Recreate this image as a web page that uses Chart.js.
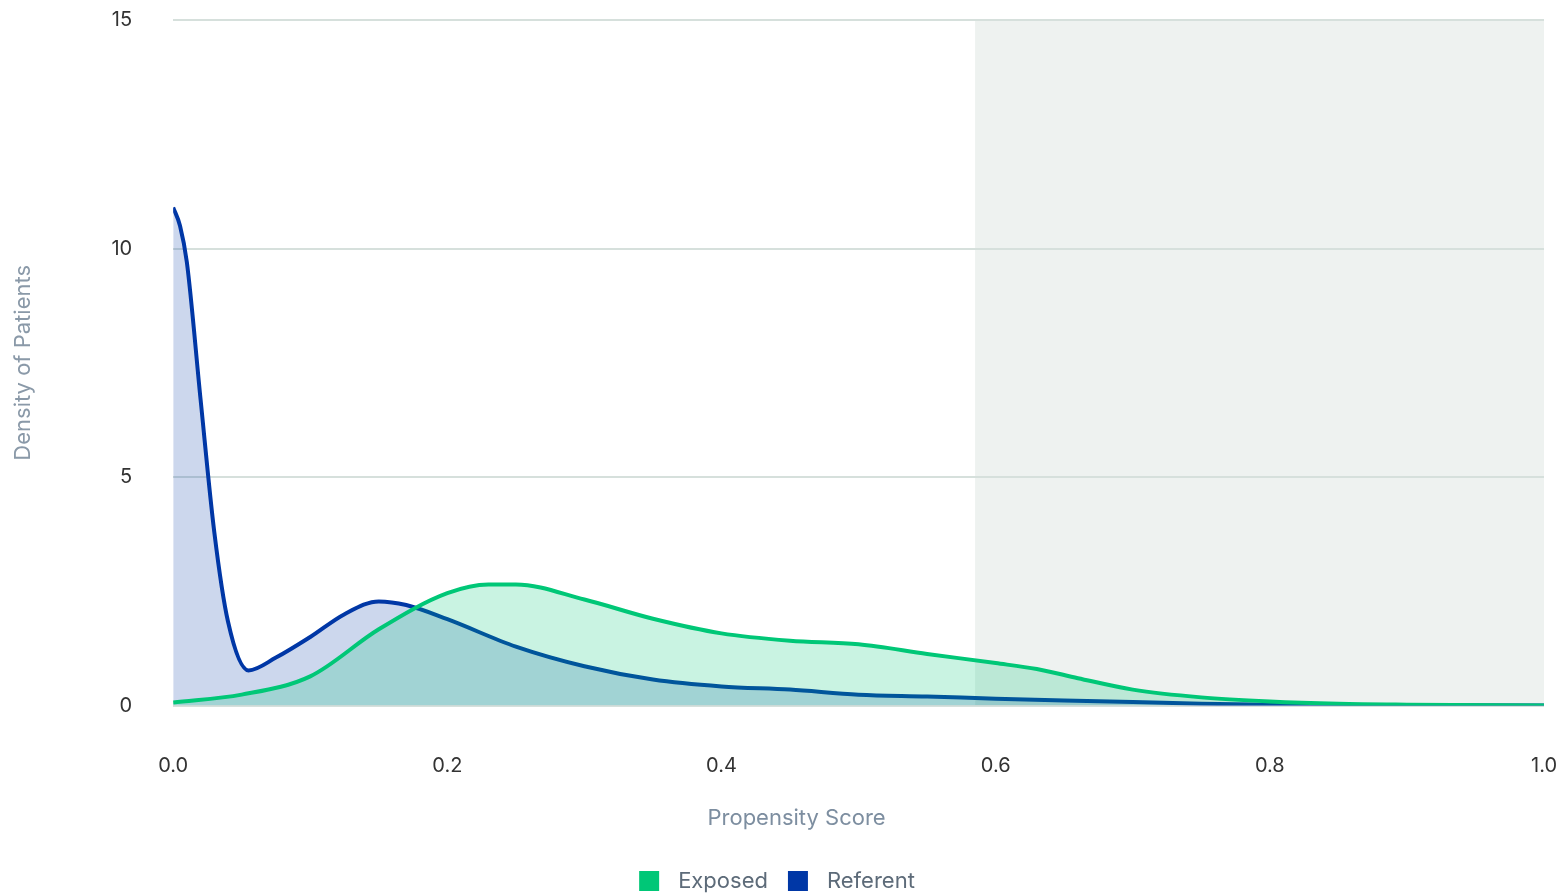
<!DOCTYPE html>
<html>
<head>
<meta charset="utf-8">
<script src="https://cdn.jsdelivr.net/npm/chart.js@4/dist/chart.umd.min.js"></script>
<style>
    html, body { margin: 0; padding: 0; background: #fff; }
    #wrap { width: 1564px; height: 894px; }
</style>
</head>
<body>
<div id="wrap"><canvas id="psChart"></canvas></div>
<script>
// propensity score grid (x) and density values
const exposedX = [0, 0.05, 0.1, 0.15, 0.2, 0.23, 0.25, 0.3, 0.35, 0.4, 0.45, 0.5, 0.55, 0.6, 0.63, 0.66, 0.7, 0.75, 0.8, 0.85, 0.9, 1.0];
const exposedY = [0.07, 0.24, 0.64, 1.67, 2.46, 2.65, 2.65, 2.32, 1.9, 1.58, 1.42, 1.34, 1.13, 0.93, 0.8, 0.6, 0.35, 0.18, 0.09, 0.04, 0.02, 0];

const referentX = [0, 0.005, 0.01, 0.02, 0.03, 0.04, 0.055, 0.075, 0.1, 0.125, 0.15, 0.17, 0.2, 0.25, 0.3, 0.35, 0.4, 0.45, 0.5, 0.55, 0.6, 0.65, 0.7, 0.75, 0.8, 0.9, 1.0];
const referentY = [10.9, 10.5, 9.7, 6.7, 3.8, 1.84, 0.77, 1.05, 1.5, 2.0, 2.28, 2.2, 1.89, 1.29, 0.86, 0.57, 0.42, 0.35, 0.24, 0.2, 0.15, 0.11, 0.08, 0.04, 0.02, 0.01, 0];

const xTicks = [0, 0.2, 0.4, 0.6, 0.8, 1.0];
const yTicks = [0, 5, 10, 15];

// region of common support shaded grey
const shadedRange = [0.585, 1.0];

const toPoints = (xs, ys) => xs.map((x, i) => ({ x: x, y: ys[i] }));

const FONT = "Inter, 'Noto Sans', sans-serif";
const X_TITLE = "Propensity Score";

// grey band behind everything (drawn before the grid so the grid stays visible)
const shadePlugin = {
    id: "shade",
    beforeDraw(chart) {
        const { ctx, chartArea, scales } = chart;
        const x1 = scales.x.getPixelForValue(shadedRange[0]);
        const x2 = scales.x.getPixelForValue(shadedRange[1]);
        ctx.save();
        ctx.fillStyle = "#eef2f0";
        ctx.fillRect(x1, chartArea.top, x2 - x1, chartArea.bottom - chartArea.top);
        ctx.restore();
    }
};

// x title sits left of the plot centre in the original, so draw it by hand
// (the built-in one is kept transparent only to reserve its space)
const xTitlePlugin = {
    id: "xTitle",
    afterDraw(chart) {
        const { ctx, chartArea, scales } = chart;
        const cx = (chartArea.left + chartArea.right) / 2 - 62;
        const cy = scales.x.bottom - 19 - 13;
        ctx.save();
        ctx.font = "22px " + FONT;
        ctx.fillStyle = "#7d8ea0";
        ctx.textAlign = "center";
        ctx.textBaseline = "middle";
        ctx.fillText(X_TITLE, cx, cy);
        ctx.restore();
    }
};

new Chart(document.getElementById("psChart"), {
    type: "line",
    data: {
        datasets: [{
            label: "Exposed",
            data: toPoints(exposedX, exposedY),
            borderColor: "#00c777",
            backgroundColor: "rgba(0, 200, 120, 0.21)",
            borderWidth: 4,
            fill: "origin",
            pointRadius: 0,
            cubicInterpolationMode: "monotone"
        }, {
            label: "Referent",
            data: toPoints(referentX, referentY),
            borderColor: "#0037a6",
            backgroundColor: "rgba(0, 55, 166, 0.2)",
            borderWidth: 4,
            fill: "origin",
            pointRadius: 0,
            cubicInterpolationMode: "monotone"
        }]
    },
    options: {
        responsive: true,
        maintainAspectRatio: false,
        animation: false,
        layout: { padding: { top: 20, right: 20, left: 10, bottom: -8 } },
        plugins: {
            legend: {
                position: "bottom",
                labels: {
                    boxWidth: 20,
                    boxHeight: 20,
                    padding: 20,
                    color: "#5d6b79",
                    font: { family: FONT, size: 22 },
                    // solid squares in the legend, a bit more room before the text
                    generateLabels(chart) {
                        return chart.data.datasets.map((ds, i) => ({
                            text: "\u2009\u2009" + ds.label,
                            fillStyle: ds.borderColor,
                            strokeStyle: ds.borderColor,
                            lineWidth: 0,
                            fontColor: "#5d6b79",
                            datasetIndex: i
                        }));
                    }
                }
            },
            tooltip: { enabled: false }
        },
        scales: {
            x: {
                type: "linear",
                min: 0,
                max: 1,
                afterBuildTicks(axis) { axis.ticks = xTicks.map(v => ({ value: v })); },
                ticks: {
                    padding: 3,
                    color: "#333",
                    font: { family: FONT, size: 20 },
                    callback: v => v.toFixed(1)
                },
                // ticks hidden, tick length only used to push labels down
                grid: { display: false, drawTicks: true, tickLength: 45 },
                border: { display: false },
                title: {
                    display: true,
                    text: X_TITLE,
                    color: "rgba(0,0,0,0)",
                    font: { family: FONT, size: 22 },
                    padding: { top: 24, bottom: 19 }
                }
            },
            y: {
                min: 0,
                max: 15,
                afterBuildTicks(axis) { axis.ticks = yTicks.map(v => ({ value: v })); },
                ticks: {
                    padding: 3,
                    color: "#333",
                    font: { family: FONT, size: 20 }
                },
                grid: { color: "#d6e0dc", lineWidth: 2, drawTicks: true, tickLength: 38, tickColor: "rgba(0,0,0,0)" },
                border: { display: false },
                title: {
                    display: true,
                    text: "Density of Patients",
                    color: "#8a99a8",
                    font: { family: FONT, size: 22 },
                    padding: { top: 0, bottom: 72 }
                }
            }
        }
    },
    plugins: [shadePlugin, xTitlePlugin]
});
</script>
</body>
</html>
